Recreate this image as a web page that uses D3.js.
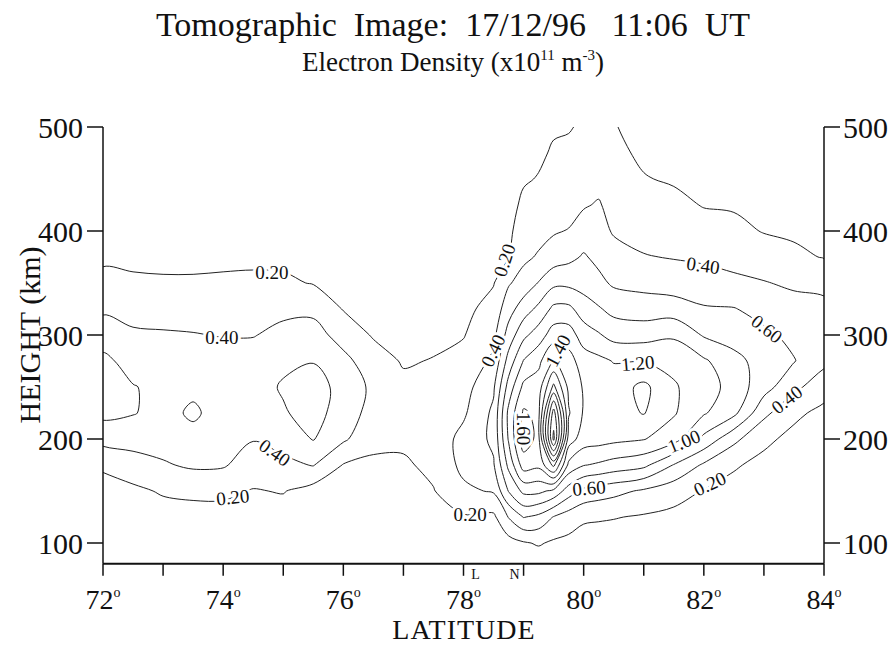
<!DOCTYPE html>
<html>
<head>
<meta charset="utf-8">
<script src="https://cdn.jsdelivr.net/npm/d3@7"></script>
<style>
  body { margin: 0; background: #fff; }
  text { font-family: "Liberation Serif", "DejaVu Serif", serif; fill: #111; }
</style>
</head>
<body>
<div id="chart"></div>
<script>
// Grid of the tomographic reconstruction: one height profile per latitude column
const latitudes = [72, 72.5, 73, 73.5, 74, 74.5, 75, 75.5, 76, 76.5, 77, 77.5, 78, 78.5,
  78.75, 79, 79.25, 79.5, 79.75, 80, 80.25, 80.5, 81, 81.5, 82, 82.5, 83, 83.5, 84];
const heights = [75, 100, 125, 150, 175, 200, 225, 250, 275, 300, 325, 350, 375, 400, 425, 450, 475, 500];

// electron density (x10^11 m^-3), each row = one latitude, values from 75 km up to 500 km
const density = [
  [0.05, 0.08, 0.10, 0.15, 0.22, 0.47, 0.65, 0.72, 0.65, 0.50, 0.37, 0.25, 0.17, 0.14, 0.12, 0.10, 0.09, 0.08],
  [0.05, 0.07, 0.10, 0.16, 0.31, 0.48, 0.61, 0.61, 0.52, 0.43, 0.33, 0.23, 0.16, 0.13, 0.11, 0.10, 0.09, 0.08],
  [0.04, 0.07, 0.12, 0.22, 0.38, 0.48, 0.54, 0.55, 0.52, 0.42, 0.32, 0.22, 0.16, 0.13, 0.11, 0.10, 0.09, 0.08],
  [0.04, 0.07, 0.13, 0.24, 0.43, 0.54, 0.63, 0.56, 0.50, 0.41, 0.31, 0.22, 0.16, 0.13, 0.11, 0.10, 0.09, 0.08],
  [0.04, 0.07, 0.13, 0.24, 0.42, 0.50, 0.52, 0.52, 0.50, 0.39, 0.31, 0.23, 0.16, 0.13, 0.11, 0.10, 0.09, 0.08],
  [0.04, 0.07, 0.12, 0.19, 0.30, 0.41, 0.48, 0.52, 0.50, 0.39, 0.31, 0.24, 0.16, 0.13, 0.11, 0.10, 0.09, 0.08],
  [0.04, 0.07, 0.12, 0.21, 0.35, 0.48, 0.58, 0.62, 0.56, 0.46, 0.35, 0.23, 0.16, 0.13, 0.11, 0.10, 0.09, 0.08],
  [0.04, 0.07, 0.10, 0.12, 0.41, 0.61, 0.68, 0.70, 0.59, 0.47, 0.36, 0.19, 0.14, 0.12, 0.11, 0.10, 0.09, 0.08],
  [0.03, 0.05, 0.08, 0.12, 0.19, 0.43, 0.50, 0.52, 0.45, 0.33, 0.19, 0.14, 0.11, 0.10, 0.09, 0.08, 0.08, 0.07],
  [0.03, 0.05, 0.07, 0.10, 0.16, 0.26, 0.33, 0.36, 0.30, 0.18, 0.13, 0.11, 0.09, 0.09, 0.08, 0.08, 0.07, 0.07],
  [0.03, 0.05, 0.07, 0.10, 0.17, 0.24, 0.27, 0.25, 0.18, 0.13, 0.10, 0.09, 0.09, 0.08, 0.08, 0.07, 0.07, 0.07],
  [0.03, 0.06, 0.10, 0.19, 0.25, 0.28, 0.30, 0.27, 0.21, 0.15, 0.11, 0.10, 0.09, 0.08, 0.08, 0.07, 0.07, 0.07],
  [0.04, 0.08, 0.18, 0.36, 0.45, 0.46, 0.37, 0.32, 0.26, 0.19, 0.15, 0.13, 0.11, 0.10, 0.09, 0.08, 0.08, 0.07],
  [0.05, 0.10, 0.16, 0.42, 0.58, 0.64, 0.64, 0.57, 0.44, 0.35, 0.27, 0.19, 0.15, 0.12, 0.10, 0.09, 0.08, 0.07],
  [0.06, 0.12, 0.41, 0.81, 1.05, 1.22, 1.25, 1.08, 0.88, 0.68, 0.52, 0.38, 0.19, 0.16, 0.13, 0.11, 0.09, 0.08],
  [0.05, 0.18, 0.61, 1.05, 1.50, 1.70, 1.63, 1.45, 1.21, 0.95, 0.70, 0.48, 0.36, 0.30, 0.24, 0.18, 0.14, 0.11],
  [0.05, 0.22, 0.55, 1.05, 1.45, 1.55, 1.55, 1.50, 1.35, 1.10, 0.85, 0.61, 0.42, 0.34, 0.26, 0.21, 0.17, 0.13],
  [0.06, 0.17, 0.39, 0.95, 1.85, 2.85, 2.70, 2.05, 1.62, 1.30, 1.05, 0.75, 0.50, 0.38, 0.30, 0.25, 0.22, 0.18],
  [0.05, 0.15, 0.30, 0.70, 1.15, 1.50, 1.62, 1.55, 1.48, 1.30, 1.05, 0.75, 0.55, 0.41, 0.32, 0.27, 0.23, 0.19],
  [0.05, 0.12, 0.23, 0.55, 1.01, 1.30, 1.38, 1.38, 1.30, 1.10, 0.90, 0.72, 0.62, 0.50, 0.38, 0.30, 0.26, 0.22],
  [0.05, 0.11, 0.22, 0.50, 0.97, 1.28, 1.35, 1.34, 1.25, 1.02, 0.82, 0.65, 0.55, 0.47, 0.42, 0.33, 0.28, 0.23],
  [0.04, 0.10, 0.21, 0.46, 0.92, 1.25, 1.32, 1.30, 1.19, 0.93, 0.74, 0.57, 0.48, 0.38, 0.32, 0.27, 0.24, 0.21],
  [0.04, 0.09, 0.18, 0.37, 0.85, 1.21, 1.41, 1.45, 1.19, 0.92, 0.70, 0.54, 0.41, 0.34, 0.27, 0.21, 0.17, 0.14],
  [0.04, 0.08, 0.15, 0.28, 0.59, 1.08, 1.22, 1.22, 1.15, 0.97, 0.70, 0.50, 0.39, 0.31, 0.25, 0.18, 0.14, 0.12],
  [0.03, 0.07, 0.12, 0.19, 0.37, 0.75, 1.02, 1.10, 1.03, 0.78, 0.62, 0.48, 0.37, 0.28, 0.19, 0.15, 0.12, 0.10],
  [0.03, 0.05, 0.09, 0.14, 0.22, 0.45, 0.85, 0.92, 0.86, 0.72, 0.61, 0.44, 0.34, 0.25, 0.18, 0.14, 0.11, 0.09],
  [0.03, 0.05, 0.07, 0.10, 0.15, 0.24, 0.45, 0.68, 0.72, 0.64, 0.53, 0.41, 0.30, 0.19, 0.15, 0.12, 0.10, 0.08],
  [0.02, 0.04, 0.06, 0.08, 0.12, 0.15, 0.24, 0.45, 0.61, 0.55, 0.47, 0.37, 0.24, 0.17, 0.14, 0.11, 0.09, 0.08],
  [0.02, 0.03, 0.05, 0.07, 0.10, 0.14, 0.15, 0.28, 0.45, 0.50, 0.45, 0.35, 0.19, 0.15, 0.12, 0.10, 0.08, 0.07]
];

const levels = [0.2, 0.4, 0.6, 0.8, 1.0, 1.2, 1.4, 1.6, 1.8, 2.0, 2.2, 2.4, 2.6, 2.8];
const latTicks = [72, 73, 74, 75, 76, 77, 78, 79, 80, 81, 82, 83, 84];
const latLabels = [72, 74, 76, 78, 80, 82, 84];
const heightTicks = [100, 200, 300, 400, 500];

// in-line contour labels: text, position (lat, km) and text angle
const contourLabels = [
  { text: '0.20', lat: 74.81, h: 360, angle: 0 },
  { text: '0.40', lat: 73.98, h: 298, angle: 0 },
  { text: '0.40', lat: 74.86, h: 187, angle: 35 },
  { text: '0.20', lat: 74.16, h: 144, angle: -6 },
  { text: '0.20', lat: 78.11, h: 128, angle: 0 },
  { text: '0.20', lat: 78.68, h: 372, angle: -72 },
  { text: '0.40', lat: 78.49, h: 285, angle: -65 },
  { text: '1.40', lat: 79.57, h: 285, angle: -62 },
  { text: '1.60', lat: 79.0, h: 210, angle: 90 },
  { text: '1.20', lat: 80.9, h: 273, angle: -5 },
  { text: '1.00', lat: 81.67, h: 198, angle: -22 },
  { text: '0.60', lat: 80.09, h: 153, angle: -5 },
  { text: '0.40', lat: 81.99, h: 367, angle: 8 },
  { text: '0.60', lat: 83.05, h: 306, angle: 38 },
  { text: '0.40', lat: 83.38, h: 238, angle: -38 },
  { text: '0.20', lat: 82.1, h: 157, angle: -25 }
];

const markers = [{ text: 'L', lat: 78.2 }, { text: 'N', lat: 78.85 }];

const width = 894, height = 646;
const x = d3.scaleLinear().domain([72, 84]).range([103, 824]);
const y = d3.scaleLinear().domain([100, 500]).range([543, 127]);
const hBottom = 80;

const svg = d3.select('#chart').append('svg')
  .attr('width', width)
  .attr('height', height);

// titles
svg.append('text')
  .attr('x', 453).attr('y', 36)
  .attr('text-anchor', 'middle')
  .attr('font-size', 34)
  .attr('xml:space', 'preserve')
  .text('Tomographic  Image:  17/12/96   11:06  UT');

const sub = svg.append('text')
  .attr('x', 453).attr('y', 71)
  .attr('text-anchor', 'middle')
  .attr('font-size', 27);
sub.append('tspan').text('Electron Density (x10');
sub.append('tspan').attr('font-size', 15).attr('dy', -11).text('11');
sub.append('tspan').attr('dy', 11).text(' m');
sub.append('tspan').attr('font-size', 15).attr('dy', -11).text('-3');
sub.append('tspan').attr('dy', 11).text(')');

// contours, computed on the grid and mapped through scales
const nx = latitudes.length, ny = heights.length;
const values = new Array(nx * ny);
for (let j = 0; j < ny; j++) {
  for (let i = 0; i < nx; i++) values[j * nx + i] = density[i][j];
}
const contours = d3.contours().size([nx, ny]).thresholds(levels)(values);

const gridLat = d3.scaleLinear().domain(d3.range(nx)).range(latitudes);
const gridH = d3.scaleLinear().domain(d3.range(ny)).range(heights);

svg.append('clipPath').attr('id', 'plot-clip')
  .append('rect')
  .attr('x', x(72)).attr('y', y(500))
  .attr('width', x(84) - x(72))
  .attr('height', y(hBottom) - y(500));

const ringLine = d3.line()
  .x(p => x(gridLat(p[0] - 0.5)))
  .y(p => y(gridH(p[1] - 0.5)))
  .curve(d3.curveCatmullRomClosed.alpha(0.5));

const contourG = svg.append('g').attr('clip-path', 'url(#plot-clip)');
contours.forEach(c => {
  c.coordinates.forEach(polygon => {
    polygon.forEach(ring => {
      contourG.append('path')
        .attr('d', ringLine(ring.slice(0, -1)))
        .attr('fill', 'none')
        .attr('stroke', '#222')
        .attr('stroke-width', 1);
    });
  });
});

// contour labels with a white halo to open a gap in the line
const labelG = svg.append('g');
contourLabels.forEach(d => {
  labelG.append('text')
    .attr('transform', `translate(${x(d.lat)},${y(d.h)}) rotate(${d.angle})`)
    .attr('text-anchor', 'middle')
    .attr('dy', '0.35em')
    .attr('font-size', 19)
    .attr('stroke', '#fff')
    .attr('stroke-width', 6)
    .attr('stroke-linejoin', 'round')
    .attr('paint-order', 'stroke')
    .text(d.text);
});

// axes
const axisG = svg.append('g').attr('stroke', '#111').attr('fill', 'none');
axisG.append('line')
  .attr('x1', x(72)).attr('x2', x(72))
  .attr('y1', y(500)).attr('y2', y(hBottom)).attr('stroke-width', 1.5);
axisG.append('line')
  .attr('x1', x(84)).attr('x2', x(84))
  .attr('y1', y(500)).attr('y2', y(hBottom)).attr('stroke-width', 1.5);
axisG.append('line')
  .attr('x1', x(72)).attr('x2', x(84))
  .attr('y1', y(hBottom)).attr('y2', y(hBottom)).attr('stroke-width', 2);

heightTicks.forEach(h => {
  axisG.append('line')
    .attr('x1', x(72) - 16).attr('x2', x(72))
    .attr('y1', y(h)).attr('y2', y(h)).attr('stroke-width', 1.5);
  axisG.append('line')
    .attr('x1', x(84)).attr('x2', x(84) + 16)
    .attr('y1', y(h)).attr('y2', y(h)).attr('stroke-width', 1.5);
  svg.append('text')
    .attr('x', x(72) - 20).attr('y', y(h))
    .attr('dy', '0.35em')
    .attr('text-anchor', 'end')
    .attr('font-size', 30)
    .text(h);
  svg.append('text')
    .attr('x', x(84) + 19).attr('y', y(h))
    .attr('dy', '0.35em')
    .attr('text-anchor', 'start')
    .attr('font-size', 30)
    .text(h);
});

latTicks.forEach(lat => {
  axisG.append('line')
    .attr('x1', x(lat)).attr('x2', x(lat))
    .attr('y1', y(hBottom)).attr('y2', y(hBottom) + 12).attr('stroke-width', 1.5);
});
latLabels.forEach(lat => {
  const t = svg.append('text')
    .attr('x', x(lat)).attr('y', y(hBottom) + 45)
    .attr('text-anchor', 'middle')
    .attr('font-size', 28);
  t.append('tspan').text(lat);
  t.append('tspan').attr('font-size', 14).attr('dy', -12).text('o');
});

markers.forEach(m => {
  svg.append('text')
    .attr('x', x(m.lat)).attr('y', y(hBottom) + 15)
    .attr('text-anchor', 'middle')
    .attr('font-size', 14)
    .text(m.text);
});

svg.append('text')
  .attr('x', 464).attr('y', 639)
  .attr('text-anchor', 'middle')
  .attr('font-size', 28)
  .attr('letter-spacing', 1)
  .text('LATITUDE');

svg.append('text')
  .attr('transform', `translate(40,${y(300)}) rotate(-90)`)
  .attr('text-anchor', 'middle')
  .attr('font-size', 30)
  .text('HEIGHT  (km)');
</script>
</body>
</html>
